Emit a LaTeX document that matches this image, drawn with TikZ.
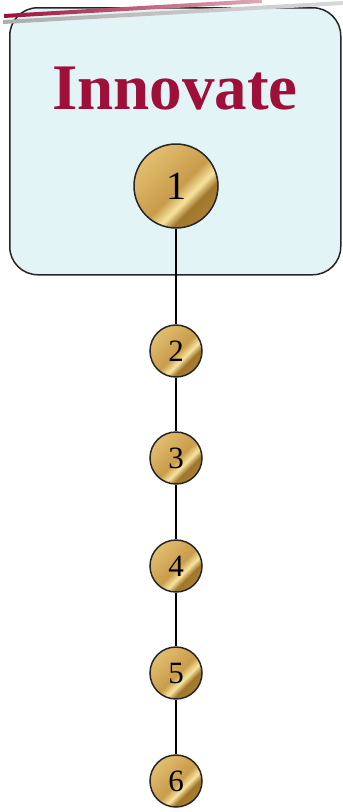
\documentclass[tikz,border=0pt]{standalone}
\usepackage{fontspec}
\setmainfont{Liberation Serif}
\definecolor{panelfill}{RGB}{226,244,246}
\definecolor{titlered}{RGB}{158,16,58}
\definecolor{coinlight}{RGB}{226,190,112}
\definecolor{coinmid}{RGB}{200,156,74}
\definecolor{coinbright}{RGB}{248,228,160}
\definecolor{coindark}{RGB}{160,118,44}
\pgfdeclarehorizontalshading{coin}{100bp}{color(0bp)=(coinlight); color(25bp)=(coinlight); color(52bp)=(coinmid); color(60bp)=(coinbright); color(66bp)=(coindark); color(100bp)=(coinmid)}

\begin{document}
\begin{tikzpicture}[
  x=1pt, y=-1pt,
  panel/.style={draw=black!85, line width=1.5pt, fill=panelfill, rounded corners=28pt},
  coin/.style={circle, draw=black!85, line width=1.5pt, shading=coin, shading angle=-45, inner sep=0pt},
  bigcoin/.style={coin, minimum size=84pt, font=\fontsize{40}{40}\selectfont},
  smallcoin/.style={coin, minimum size=52pt, font=\fontsize{31}{31}\selectfont},
  link/.style={line width=1.5pt, black},
]
\useasboundingbox (0,0) rectangle (343,812);

\node (box) [panel, minimum width=331pt, minimum height=267pt, anchor=north west] at (9,7) {};
\shade[left color=titlered, right color=titlered!35] (4,14) -- (262,-1) -- (262,3) -- (4,18) -- cycle;
\shade[left color=black!32, right color=black!15] (3,20) -- (343,1) -- (343,5) -- (3,24) -- cycle;

\node (title) [font=\bfseries\fontsize{65}{65}\selectfont, text=titlered] at (175,89) {Innovate};

\node (c1) [bigcoin] at (176,186) {1};
\foreach \n/\y in {2/351, 3/458, 4/566, 5/673, 6/781} {
  \node (c\n) [smallcoin] at (176,\y) {\n};
}
\foreach \a/\b in {1/2, 2/3, 3/4, 4/5, 5/6} {
  \draw[link] (c\a) -- (c\b);
}
\end{tikzpicture}
\end{document}
